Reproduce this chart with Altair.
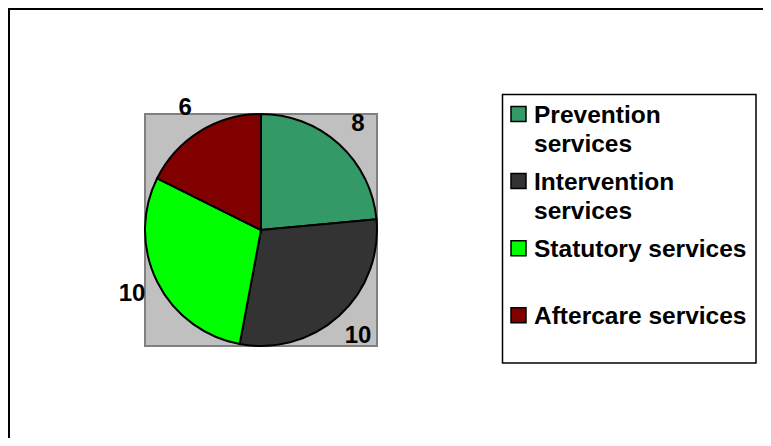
import altair as alt
import pandas as pd

categories = ["Prevention services", "Intervention services", "Statutory services", "Aftercare services"]
values = [8, 10, 10, 6]
colors = ["#339966", "#333333", "#00ff00", "#800000"]
legend_lines = ["Prevention|services", "Intervention|services", "Statutory services", "Aftercare services"]

df = pd.DataFrame({
    "category": categories,
    "value": values,
    "order": list(range(len(categories))),
    "legend": legend_lines,
})
one = pd.DataFrame({"a": [0]})

FONT = "Liberation Sans"
CX, CY, R = 253, 222, 116
W, H = 755, 430

color = alt.Color("category:N", scale=alt.Scale(domain=categories, range=colors), legend=None)

frame_top = alt.Chart(one).mark_rule(color="black", strokeWidth=2).encode(
    x=alt.value(0), x2=alt.value(W), y=alt.value(1))
frame_left = alt.Chart(one).mark_rule(color="black", strokeWidth=2).encode(
    x=alt.value(1), y=alt.value(0), y2=alt.value(H))

square_bg = alt.Chart(one).mark_rect(fill="#c0c0c0", stroke="#808080", strokeWidth=2).encode(
    x=alt.value(137), x2=alt.value(369), y=alt.value(106), y2=alt.value(338))

pie = alt.Chart(df).mark_arc(outerRadius=R, stroke="black", strokeWidth=2).encode(
    theta=alt.Theta("value:Q", stack=True),
    order=alt.Order("order:Q"),
    color=color,
    x=alt.value(CX), y=alt.value(CY))

labels = alt.Chart(df).mark_text(radius=144, font=FONT, fontSize=24, fontWeight="bold",
                                 color="black", align="center", baseline="middle").encode(
    theta=alt.Theta("value:Q", stack=True),
    order=alt.Order("order:Q"),
    text="value:Q",
    x=alt.value(CX), y=alt.value(CY))

legend_box = alt.Chart(one).mark_rect(fill="white", stroke="black", strokeWidth=1.5).encode(
    x=alt.value(494.5), x2=alt.value(748), y=alt.value(86.5), y2=alt.value(355))

ypos = alt.Y("order:Q", scale=alt.Scale(domain=[0, 3], range=[114.7, 316]), axis=None)

legend_sym = alt.Chart(df).mark_square(size=225, stroke="black", strokeWidth=1.5, opacity=1,
                                       yOffset=-8.7).encode(
    x=alt.value(510.5), y=ypos, color=color)

legend_txt = alt.Chart(df).mark_text(align="left", baseline="alphabetic", lineBreak="|",
                                     lineHeight=29, font=FONT, fontSize=24.5, fontWeight="bold",
                                     color="black").encode(
    x=alt.value(526), y=ypos, text="legend:N")

chart = alt.layer(frame_top, frame_left, square_bg, pie, labels, legend_box, legend_sym, legend_txt).properties(
    width=W, height=H, padding=0,
    autosize=alt.AutoSizeParams(type="none"),
    background="white",
).configure_view(stroke=None)

chart.save("out.html", embed_options={"renderer": "svg", "actions": False})
